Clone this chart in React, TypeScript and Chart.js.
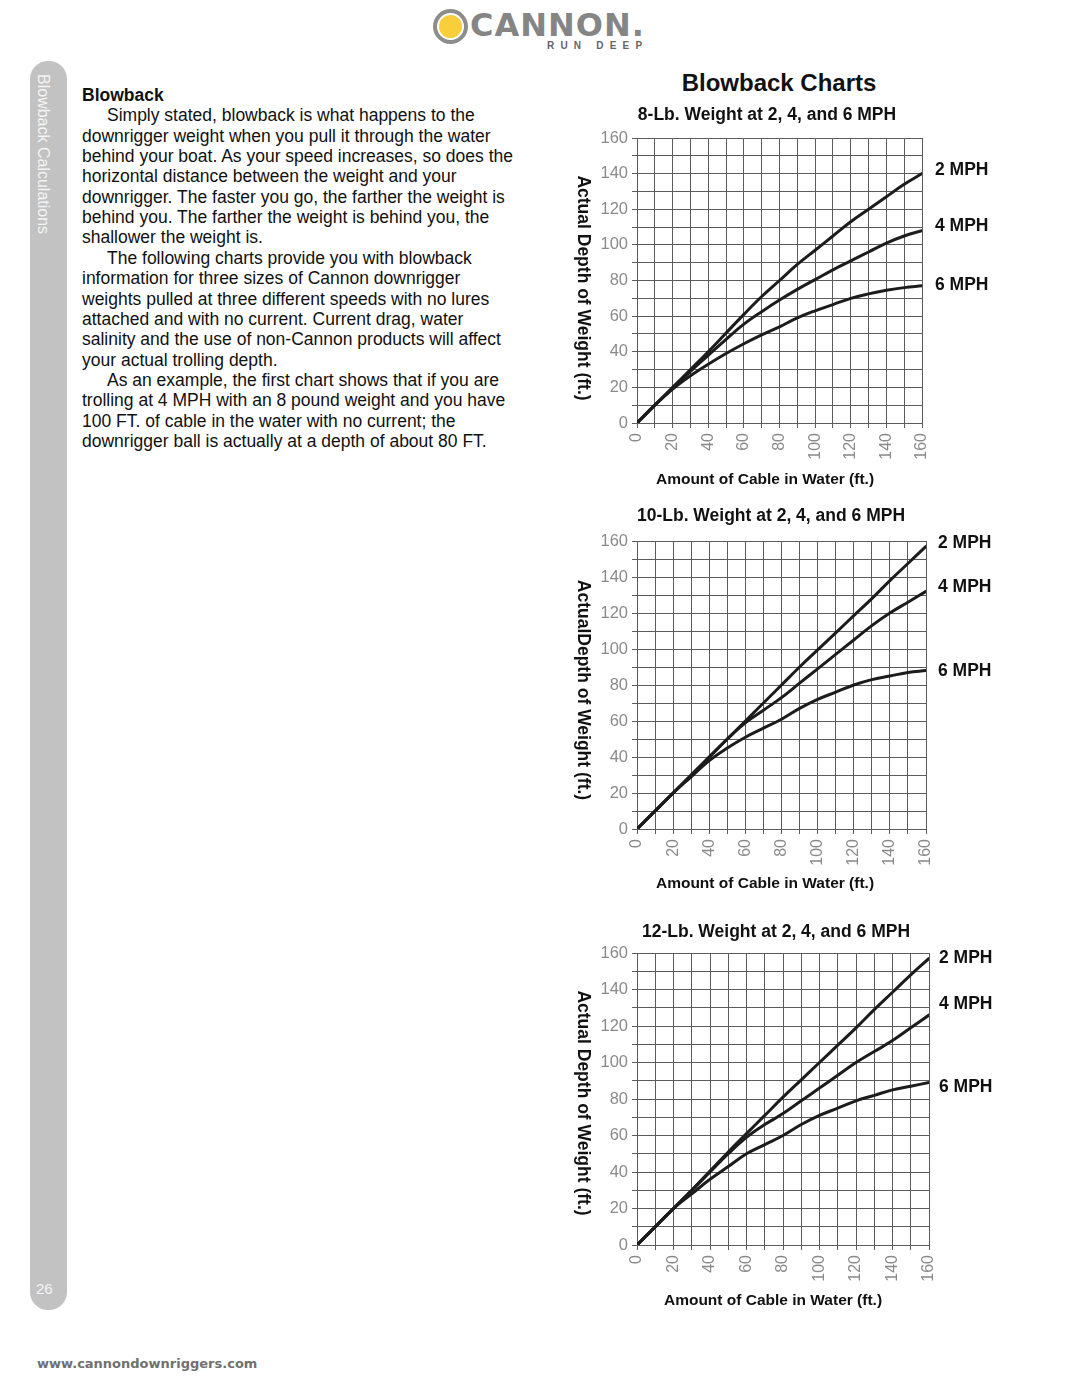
import React, { useEffect, useRef } from "react";
import { Chart, registerables } from "chart.js";

Chart.register(...registerables);

// ---------- DATA ----------
const cableFt = [0, 10, 20, 30, 40, 50, 60, 70, 80, 90, 100, 110, 120, 130, 140, 150, 160];
const speedLabels = ["2 MPH", "4 MPH", "6 MPH"];

const lb8_2mph = [0, 10, 20, 30, 40, 50.5, 61, 71, 80, 89, 97, 105, 113, 120, 127, 134, 140];
const lb8_4mph = [0, 10, 19.5, 29, 38, 47, 55.5, 62.5, 69, 75, 80.5, 86, 91, 96, 101, 105, 108];
const lb8_6mph = [0, 10, 19, 26.5, 33, 39, 44.5, 49.5, 54, 59, 63, 66.5, 70, 72.5, 74.5, 76, 77];

const lb10_2mph = [0, 10, 20, 30, 40, 50, 60, 70, 80, 90, 99.5, 109, 118.5, 128, 138, 147.5, 157];
const lb10_4mph = [0, 10, 20, 30, 40, 50, 59, 66, 73, 81, 89, 97, 105, 113, 120, 126, 132];
const lb10_6mph = [0, 10, 20, 29, 38, 45, 51, 56, 61, 67, 72, 76, 80, 83, 85, 87, 88];

const lb12_2mph = [0, 10, 20, 30, 40.5, 51, 61, 71, 81, 90.5, 100, 109.5, 119, 129, 138.5, 148, 157];
const lb12_4mph = [0, 10, 20, 30, 40, 50, 59, 66, 72, 79, 86, 93, 100, 106, 112, 119, 126];
const lb12_6mph = [0, 10, 20, 28, 36, 43, 50, 55, 60, 66, 71, 75, 79, 82, 85, 87, 89];

const axisMin = 0;
const axisMax = 160;
const gridStep = 10;
const labelStep = 20;

const chartTitles = [
  "8-Lb. Weight at 2, 4, and 6 MPH",
  "10-Lb. Weight at 2, 4, and 6 MPH",
  "12-Lb. Weight at 2, 4, and 6 MPH",
];
const yAxisTitles = [
  "Actual Depth of Weight (ft.)",
  "ActualDepth of Weight (ft.)",
  "Actual Depth of Weight (ft.)",
];
const xAxisTitle = "Amount of Cable in Water (ft.)";

const bodyLines: { text: string; indent: boolean }[] = [
  { text: "Simply stated, blowback is what happens to the", indent: true },
  { text: "downrigger weight when you pull it through the water", indent: false },
  { text: "behind your boat. As your speed increases, so does the", indent: false },
  { text: "horizontal distance between the weight and your", indent: false },
  { text: "downrigger. The faster you go, the farther the weight is", indent: false },
  { text: "behind you. The farther the weight is behind you, the", indent: false },
  { text: "shallower the weight is.", indent: false },
  { text: "The following charts provide you with blowback", indent: true },
  { text: "information for three sizes of Cannon downrigger", indent: false },
  { text: "weights pulled at three different speeds with no lures", indent: false },
  { text: "attached and with no current. Current drag, water", indent: false },
  { text: "salinity and the use of non-Cannon products will affect", indent: false },
  { text: "your actual trolling depth.", indent: false },
  { text: "As an example, the first chart shows that if you are", indent: true },
  { text: "trolling at 4 MPH with an 8 pound weight and you have", indent: false },
  { text: "100 FT. of cable in the water with no current; the", indent: false },
  { text: "downrigger ball is actually at a depth of about 80 FT.", indent: false },
];

// ---------- LAYOUT (positions/styles) ----------
const FONT = '"Liberation Sans", Arial, Helvetica, sans-serif';
const CANVAS_W = 440;
const CANVAS_H = 400;
const X_AXIS_H = 50;

type ChartLayout = {
  top: number;
  plotLeft: number;
  plotTop: number;
  plotW: number;
  plotH: number;
  titleX: number;
  titleY: number;
  xTitleX: number;
  xTitleY: number;
  yTitleX: number;
  yTitleY: number;
  labelDx: number;
  labelDy: number[];
};

const layouts: ChartLayout[] = [
  { top: 100, plotLeft: 77, plotTop: 38, plotW: 285, plotH: 285, titleX: 207, titleY: 15, xTitleX: 205, xTitleY: 380, yTitleX: 23, yTitleY: 188, labelDx: 13, labelDy: [-3, -4, -1] },
  { top: 500, plotLeft: 77, plotTop: 41, plotW: 289, plotH: 288, titleX: 211, titleY: 16, xTitleX: 205, xTitleY: 384, yTitleX: 23, yTitleY: 190, labelDx: 12, labelDy: [-3, -4, 1] },
  { top: 915, plotLeft: 77, plotTop: 38, plotW: 292, plotH: 292, titleX: 216, titleY: 17, xTitleX: 213, xTitleY: 386, yTitleX: 23, yTitleY: 188, labelDx: 10, labelDy: [0, -11, 5] },
];

const seriesSets = [
  [lb8_2mph, lb8_4mph, lb8_6mph],
  [lb10_2mph, lb10_4mph, lb10_6mph],
  [lb12_2mph, lb12_4mph, lb12_6mph],
];

const pageTextPlugin = {
  id: "pageText",
  afterDraw(chart: any, _args: any, opts: any) {
    const { ctx, chartArea } = chart;
    ctx.save();
    ctx.fillStyle = "#111111";
    ctx.textBaseline = "middle";
    ctx.textAlign = "center";
    ctx.font = `bold 17.5px ${FONT}`;
    ctx.fillText(opts.title, opts.titleX, opts.titleY);
    ctx.font = `bold 15.5px ${FONT}`;
    ctx.fillText(opts.xTitle, opts.xTitleX, opts.xTitleY);
    ctx.save();
    ctx.translate(opts.yTitleX, opts.yTitleY);
    ctx.rotate(Math.PI / 2);
    ctx.font = `bold 17.5px ${FONT}`;
    ctx.fillText(opts.yTitle, 0, 0);
    ctx.restore();
    ctx.textAlign = "left";
    ctx.font = `bold 17.5px ${FONT}`;
    chart.data.datasets.forEach((ds: any, i: number) => {
      const meta = chart.getDatasetMeta(i);
      const pt = meta.data[meta.data.length - 1];
      if (!pt) return;
      ctx.fillText(ds.label, chartArea.right + opts.labelDx, pt.y + opts.labelDy[i]);
    });
    ctx.restore();
  },
};

function BlowbackChart({ index }: { index: number }) {
  const ref = useRef<HTMLCanvasElement | null>(null);
  const L = layouts[index];

  useEffect(() => {
    if (!ref.current) return;
    const series = seriesSets[index];
    const gridColor = "#5c5c5c";
    const tickColor = "#8a8a8a";
    const tickCb = (v: any) => (Number(v) % labelStep === 0 ? String(v) : "");
    const chart = new Chart(ref.current, {
      type: "line",
      data: {
        datasets: series.map((vals, i) => ({
          label: speedLabels[i],
          data: cableFt.map((x, j) => ({ x, y: vals[j] })),
          borderColor: "#1c1c1c",
          borderWidth: 3,
          pointRadius: 0,
          tension: 0.4,
          fill: false,
          borderCapStyle: "round" as const,
          borderJoinStyle: "round" as const,
        })),
      },
      options: {
        animation: false,
        responsive: false,
        events: [],
        layout: {
          padding: {
            left: 0,
            top: L.plotTop,
            right: CANVAS_W - L.plotLeft - L.plotW,
            bottom: CANVAS_H - L.plotTop - L.plotH - X_AXIS_H,
          },
        },
        plugins: {
          legend: { display: false },
          tooltip: { enabled: false },
          title: { display: false },
          pageText: {
            title: chartTitles[index],
            xTitle: xAxisTitle,
            yTitle: yAxisTitles[index],
            titleX: L.titleX,
            titleY: L.titleY,
            xTitleX: L.xTitleX,
            xTitleY: L.xTitleY,
            yTitleX: L.yTitleX,
            yTitleY: L.yTitleY,
            labelDx: L.labelDx,
            labelDy: L.labelDy,
          },
        } as any,
        scales: {
          x: {
            type: "linear",
            min: axisMin,
            max: axisMax,
            afterFit: (s: any) => {
              s.height = X_AXIS_H;
            },
            ticks: {
              stepSize: gridStep,
              autoSkip: false,
              minRotation: 90,
              maxRotation: 90,
              padding: 5,
              color: tickColor,
              font: { family: FONT, size: 16 },
              callback: tickCb,
            },
            grid: { color: gridColor, lineWidth: 1, tickLength: 5, drawTicks: true },
            border: { color: gridColor, width: 1 },
          },
          y: {
            type: "linear",
            min: axisMin,
            max: axisMax,
            afterFit: (s: any) => {
              s.width = L.plotLeft;
            },
            ticks: {
              stepSize: gridStep,
              autoSkip: false,
              padding: 4,
              color: tickColor,
              font: { family: FONT, size: 16.5 },
              callback: tickCb,
            },
            grid: { color: gridColor, lineWidth: 1, tickLength: 5, drawTicks: true },
            border: { color: gridColor, width: 1 },
          },
        },
      },
      plugins: [pageTextPlugin],
    });
    return () => chart.destroy();
  }, [index]);

  return (
    <canvas
      ref={ref}
      width={CANVAS_W}
      height={CANVAS_H}
      style={{ position: "absolute", left: 560, top: L.top, width: CANVAS_W, height: CANVAS_H }}
    />
  );
}

function Logo() {
  return (
    <div style={{ position: "absolute", left: 0, top: 0, width: 1080, height: 60 }}>
      <div
        style={{
          position: "absolute",
          left: 433,
          top: 9,
          width: 35,
          height: 35,
          borderRadius: "50%",
          background: "#8c8c8c",
        }}
      >
        <div
          style={{
            position: "absolute",
            left: 4,
            top: 4,
            width: 27,
            height: 27,
            borderRadius: "50%",
            background: "#ffffff",
          }}
        >
          <div
            style={{
              position: "absolute",
              left: 2,
              top: 2,
              width: 23,
              height: 23,
              borderRadius: "50%",
              background: "#f8cf3a",
            }}
          />
        </div>
      </div>
      <div
        style={{
          position: "absolute",
          left: 470,
          top: 5,
          fontFamily: '"DejaVu Sans", Verdana, sans-serif',
          fontWeight: 700,
          fontSize: 32,
          letterSpacing: 1,
          color: "#858585",
          lineHeight: "40px",
          whiteSpace: "nowrap",
        }}
      >
        CANNON.
      </div>
      <div
        style={{
          position: "absolute",
          left: 547,
          top: 40,
          fontFamily: FONT,
          fontWeight: 700,
          fontSize: 10,
          letterSpacing: 6.2,
          color: "#666666",
          lineHeight: "12px",
          whiteSpace: "nowrap",
        }}
      >
        RUN DEEP
      </div>
    </div>
  );
}

export default function App() {
  useEffect(() => {
    document.body.style.margin = "0";
    document.body.style.background = "#ffffff";
  }, []);

  const lineH = 20.375;

  return (
    <div
      style={{
        position: "absolute",
        left: 0,
        top: 0,
        width: 1080,
        height: 1397,
        overflow: "hidden",
        background: "#ffffff",
        fontFamily: FONT,
      }}
    >
      <Logo />

      {/* Side tab */}
      <div
        style={{
          position: "absolute",
          left: 30,
          top: 61,
          width: 37,
          height: 1249,
          borderRadius: 18,
          background: "#c2c2c2",
        }}
      />
      <div
        style={{
          position: "absolute",
          left: 35,
          top: 74,
          writingMode: "vertical-rl",
          fontSize: 16,
          color: "#f4f4f4",
          fontFamily: FONT,
          whiteSpace: "nowrap",
          lineHeight: "17px",
        }}
      >
        Blowback Calculations
      </div>
      <div
        style={{
          position: "absolute",
          left: 36,
          top: 1280,
          fontSize: 15,
          color: "#f4f4f4",
          fontFamily: FONT,
          lineHeight: "18px",
        }}
      >
        26
      </div>

      {/* Left text column */}
      <div
        style={{
          position: "absolute",
          left: 82,
          top: 95 - lineH / 2,
          fontSize: 17.5,
          lineHeight: `${lineH}px`,
          color: "#111111",
          fontFamily: FONT,
          whiteSpace: "nowrap",
        }}
      >
        <div style={{ fontWeight: 700 }}>Blowback</div>
        {bodyLines.map((l, i) => (
          <div key={i} style={{ paddingLeft: l.indent ? 25 : 0 }}>
            {l.text}
          </div>
        ))}
      </div>

      {/* Page heading */}
      <div
        style={{
          position: "absolute",
          left: 579,
          width: 400,
          top: 68,
          textAlign: "center",
          fontSize: 24,
          fontWeight: 700,
          color: "#111111",
          lineHeight: "30px",
        }}
      >
        Blowback Charts
      </div>

      <BlowbackChart index={0} />
      <BlowbackChart index={1} />
      <BlowbackChart index={2} />

      {/* Footer */}
      <div
        style={{
          position: "absolute",
          left: 37,
          top: 1355,
          fontFamily: '"DejaVu Sans", Verdana, sans-serif',
          fontWeight: 700,
          fontSize: 13,
          color: "#707070",
          lineHeight: "17px",
          whiteSpace: "nowrap",
        }}
      >
        www.cannondownriggers.com
      </div>
    </div>
  );
}
